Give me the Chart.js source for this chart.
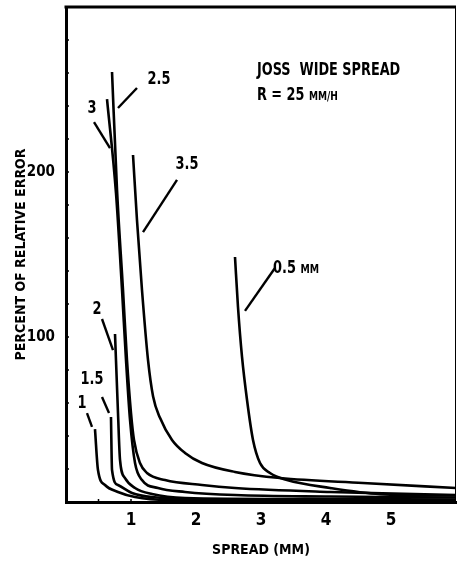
<!DOCTYPE html>
<html>
<head>
<meta charset="utf-8">
<script src="https://cdn.jsdelivr.net/npm/chart.js@4.4.0/dist/chart.umd.min.js"></script>
<style>
  body { margin: 0; background: #fff; }
  #wrap { width: 457px; height: 565px; }
</style>
</head>
<body>
<div id="wrap"><canvas id="grafico" width="457" height="565"></canvas></div>
<script>
// fonte estreita e grossa, parecida com o letreiro do original
var FONTE = '"Liberation Sans Narrow", "DejaVu Sans Condensed", "DejaVu Sans", sans-serif';

// curvas: x = spread (mm), y = percent of relative error
var curva05 = [[2.60,148.5],[2.646,118.2],[2.708,87.9],[2.785,61.8],[2.877,37.6],[2.985,23.6],[3.138,17.6],[3.40,13.3],[4.062,8.5],[4.831,4.8],[6.0,3.9]];
var curva1  = [[0.446,44.2],[0.492,19.4],[0.60,10.3],[0.80,6.1],[1.062,3.0],[1.569,1.2],[6.0,0.6]];
var curva15 = [[0.692,51.5],[0.708,19.4],[0.80,10.3],[1.015,5.5],[1.323,3.0],[2.37,1.5],[6.0,0.9]];
var curva2  = [[0.754,101.8],[0.80,53.9],[0.831,25.5],[0.908,14.5],[1.062,8.5],[1.323,4.8],[1.831,2.4],[3.6,1.8],[6.0,1.5]];
var curva25 = [[0.708,260.6],[0.785,189.1],[0.877,128.5],[0.938,86.1],[1.0,53.9],[1.046,37.6],[1.138,23.6],[1.246,17.6],[1.523,13.3],[2.092,10.3],[2.60,8.5],[4.062,6.1],[6.0,4.2]];
var curva3  = [[0.631,244.2],[0.769,187.3],[0.862,128.5],[0.923,86.1],[0.985,49.7],[1.062,23.6],[1.169,13.3],[1.415,8.5],[1.831,6.1],[2.60,4.2],[4.06,3.3],[6.0,2.7]];
var curva35 = [[1.031,210.3],[1.092,170.9],[1.169,128.5],[1.262,86],[1.34,64],[1.446,51],[1.631,37.6],[1.831,29.7],[2.092,23.6],[2.60,18.2],[3.292,14.5],[4.569,11.5],[6.0,8.5]];

// tracinhos que ligam o rotulo a curva
var traco05 = [[2.754,115.8],[3.215,141.8]];
var traco1  = [[0.323,53.9],[0.40,45.5]];
var traco15 = [[0.554,63.6],[0.662,53.9]];
var traco2  = [[0.554,110.9],[0.723,92.1]];
var traco25 = [[0.80,238.8],[1.092,250.9]];
var traco3  = [[0.431,230.3],[0.677,214.5]];
var traco35 = [[1.708,195.2],[1.185,163.6]];

// rotulos: texto, parte pequena, x, y, alinhamento
var rotulos = [
  ['2.5', '', 1.431, 257, 'center'],
  ['3', '', 0.40, 239.4, 'center'],
  ['3.5', '', 1.862, 206, 'center'],
  ['2', '', 0.477, 117.6, 'center'],
  ['1.5', '', 0.40, 75.2, 'center'],
  ['1', '', 0.246, 60.6, 'center'],
  ['0.5 ', 'MM', 3.185, 143, 'left']
];
var legenda = [
  ['JOSS  WIDE SPREAD', '', 2.938, 262.4, 'left'],
  ['R = 25 ', 'MM/H', 2.938, 247.3, 'left']
];

var ticksX = [1, 2, 3, 4, 5];
var ticksY = [100, 200];

function pontos(lista) {
  return lista.map(function (p) { return { x: p[0], y: p[1] }; });
}

function serie(lista, curva) {
  return {
    data: pontos(lista),
    borderColor: '#000',
    borderWidth: curva ? 2.6 : 2.4,
    pointRadius: 0,
    fill: false,
    cubicInterpolationMode: curva ? 'monotone' : 'default',
    tension: 0
  };
}

var datasets = [
  serie(curva05, true), serie(curva1, true), serie(curva15, true), serie(curva2, true),
  serie(curva25, true), serie(curva3, true), serie(curva35, true),
  serie(traco05, false), serie(traco1, false), serie(traco15, false), serie(traco2, false),
  serie(traco25, false), serie(traco3, false), serie(traco35, false)
];

// escreve texto apertado na horizontal (letreiro estreito)
function escreve(ctx, r, sx, sy, tam, aperto) {
  var px = sx.getPixelForValue(r[2]);
  var py = sy.getPixelForValue(r[3]);
  ctx.font = 'bold ' + tam + 'px ' + FONTE;
  var w1 = ctx.measureText(r[0]).width;
  ctx.font = 'bold ' + Math.round(tam * 0.72) + 'px ' + FONTE;
  var w2 = r[1] ? ctx.measureText(r[1]).width : 0;
  var total = (w1 + w2) * aperto;
  var x0 = r[4] == 'center' ? px - total / 2 : px;
  ctx.save();
  ctx.translate(x0, py);
  ctx.scale(aperto, 1);
  ctx.textAlign = 'left';
  ctx.textBaseline = 'alphabetic';
  ctx.font = 'bold ' + tam + 'px ' + FONTE;
  ctx.fillText(r[0], 0, tam * 0.36);
  if (r[1]) {
    ctx.font = 'bold ' + Math.round(tam * 0.72) + 'px ' + FONTE;
    ctx.fillText(r[1], w1, tam * 0.36);
  }
  ctx.restore();
}

// moldura, marquinhas e textos
var enfeites = {
  id: 'enfeites',
  afterDraw: function (chart) {
    var ctx = chart.ctx;
    var a = chart.chartArea;
    var sx = chart.scales.x;
    var sy = chart.scales.y;
    ctx.save();
    ctx.strokeStyle = '#000';
    ctx.lineWidth = 3;
    ctx.beginPath();
    ctx.moveTo(a.left - 1.5, a.top);
    ctx.lineTo(a.right, a.top);
    ctx.stroke();
    ctx.lineWidth = 1;
    ctx.beginPath();
    ctx.moveTo(a.right - 0.5, a.top);
    ctx.lineTo(a.right - 0.5, a.bottom);
    ctx.stroke();

    ctx.lineWidth = 1.5;
    for (var v = 20; v < 300; v += 20) {
      var py = sy.getPixelForValue(v);
      ctx.beginPath();
      ctx.moveTo(a.left, py);
      ctx.lineTo(a.left + 3, py);
      ctx.stroke();
    }
    for (var u = 0.5; u < 6; u += 0.5) {
      var px = sx.getPixelForValue(u);
      ctx.beginPath();
      ctx.moveTo(px, a.bottom);
      ctx.lineTo(px, a.bottom - 3);
      ctx.stroke();
    }

    ctx.fillStyle = '#000';
    rotulos.forEach(function (r) { escreve(ctx, r, sx, sy, 18, 0.8); });
    legenda.forEach(function (r) { escreve(ctx, r, sx, sy, 17, 0.84); });
    ctx.restore();
  }
};

new Chart(document.getElementById('grafico'), {
  type: 'line',
  data: { datasets: datasets },
  options: {
    responsive: false,
    animation: false,
    layout: { padding: { top: 7, right: 1, left: 0, bottom: 0 } },
    plugins: { legend: { display: false }, tooltip: { enabled: false } },
    scales: {
      x: {
        type: 'linear',
        min: 0,
        max: 6,
        afterFit: function (s) { s.height = 63; s.paddingLeft = 0; s.paddingRight = 0; },
        afterBuildTicks: function (s) { s.ticks = ticksX.map(function (v) { return { value: v }; }); },
        grid: { display: false },
        border: { display: true, color: '#000', width: 3 },
        ticks: { color: '#000', padding: 0, font: { family: FONTE, size: 17, weight: 'bold' } },
        title: { display: true, text: 'SPREAD (MM)', color: '#000', padding: { top: 0, bottom: 6 }, font: { family: FONTE, size: 14, weight: 'bold' } }
      },
      y: {
        type: 'linear',
        min: 0,
        max: 300,
        afterFit: function (s) { s.width = 66; s.paddingTop = 0; s.paddingBottom = 0; },
        afterBuildTicks: function (s) { s.ticks = ticksY.map(function (v) { return { value: v }; }); },
        grid: { display: false },
        border: { display: true, color: '#000', width: 3 },
        ticks: { color: '#000', padding: 3, font: { family: FONTE, size: 15, weight: 'bold' } },
        title: { display: true, text: 'PERCENT OF RELATIVE ERROR', color: '#000', padding: { top: 13, bottom: 0 }, font: { family: FONTE, size: 14, weight: 'bold' } }
      }
    }
  },
  plugins: [enfeites]
});
</script>
</body>
</html>
